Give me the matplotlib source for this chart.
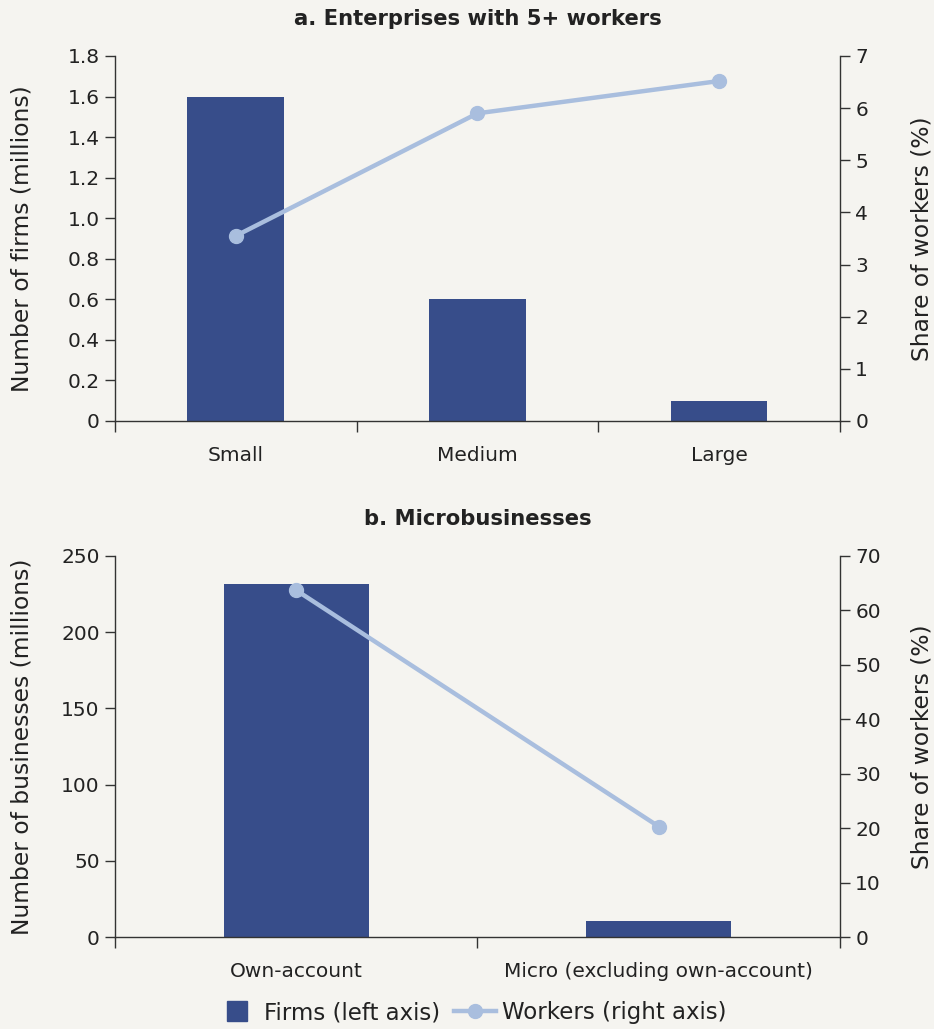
import matplotlib
matplotlib.use("Agg")
import matplotlib.pyplot as plt
import numpy as np
from matplotlib.lines import Line2D

# Data
cats_a = ["Small", "Medium", "Large"]
firms_a = [1.6, 0.6, 0.1]
workers_a = [3.55, 5.9, 6.52]

cats_b = ["Own-account", "Micro (excluding own-account)"]
firms_b = [231.5, 10.5]
workers_b = [63.7, 20.3]

bg = "#f5f4f0"
bar_c = "#374d8a"
line_c = "#a9bede"
txt = "#222222"
spine_c = "#333333"

plt.rcParams['font.family'] = ['DejaVu Sans']
plt.rcParams['text.color'] = txt

fig = plt.figure(figsize=(9.34, 10.29), dpi=100, facecolor=bg)

def panel(rect, cats, firms, workers, ylim, yticks, ylabels, y2lim, y2ticks, ylab, title):
    ax = fig.add_axes(rect)
    ax.set_facecolor(bg)
    n = len(cats)
    x = np.arange(n)
    ax.bar(x, firms, width=0.4, color=bar_c, zorder=2)
    ax.set_xlim(-0.5, n - 0.5)
    ax.set_ylim(*ylim)
    ax.set_yticks(yticks)
    ax.set_yticklabels(ylabels)
    ax.set_xticks(x)
    ax.set_xticklabels(cats)
    ax.set_xticks(np.arange(n + 1) - 0.5, minor=True)
    ax.tick_params(axis='x', which='major', length=0, pad=18, labelsize=14.5, colors=txt)
    ax.tick_params(axis='x', which='minor', length=8, width=1, color=spine_c)
    ax.tick_params(axis='y', length=7, width=1, color=spine_c, labelsize=14.5, labelcolor=txt, pad=4)
    ax.spines['top'].set_visible(False)
    ax.spines['right'].set_visible(False)
    for s in ['left', 'bottom']:
        ax.spines[s].set_color(spine_c)
        ax.spines[s].set_linewidth(1)
    ax.set_ylabel(ylab, fontsize=16.8, color=txt)
    ax.yaxis.set_label_coords(-0.113, 0.5)
    ax.set_title(title, fontsize=15.2, fontweight='bold', color=txt, pad=22)
    ax2 = ax.twinx()
    ax2.plot(x, workers, color=line_c, lw=3.2, marker='o', ms=10, zorder=3)
    ax2.set_ylim(*y2lim)
    ax2.set_yticks(y2ticks)
    ax2.tick_params(axis='y', length=7, width=1, color=spine_c, labelsize=14.5, labelcolor=txt, pad=4)
    for s in ['top', 'left', 'bottom']:
        ax2.spines[s].set_visible(False)
    ax2.spines['right'].set_color(spine_c)
    ax2.spines['right'].set_linewidth(1)
    ax2.set_ylabel("Share of workers (%)", fontsize=16.8, color=txt)
    ax2.yaxis.set_label_coords(1.097, 0.5)
    return ax, ax2

ya = [0, 0.2, 0.4, 0.6, 0.8, 1.0, 1.2, 1.4, 1.6, 1.8]
yal = ["0", "0.2", "0.4", "0.6", "0.8", "1.0", "1.2", "1.4", "1.6", "1.8"]
panel([0.1231, 0.5909, 0.7762, 0.3547], cats_a, firms_a, workers_a,
      (0, 1.8), ya, yal, (0, 7), list(range(8)),
      "Number of firms (millions)", "a. Enterprises with 5+ workers")

yb = [0, 50, 100, 150, 200, 250]
panel([0.1231, 0.0894, 0.7762, 0.3703], cats_b, firms_b, workers_b,
      (0, 250), yb, [str(v) for v in yb], (0, 70), list(range(0, 71, 10)),
      "Number of businesses (millions)", "b. Microbusinesses")

handles = [Line2D([0], [0], marker='s', color='none', markerfacecolor=bar_c,
                  markeredgecolor=bar_c, markersize=14),
           Line2D([0], [0], color=line_c, lw=3.2, marker='o', ms=10)]
fig.legend(handles, ["Firms (left axis)", "Workers (right axis)"],
           loc='center', bbox_to_anchor=(0.505, 0.016), ncol=2, frameon=False,
           fontsize=16.5, handlelength=1.8, handletextpad=0.3, columnspacing=0.6)

fig.savefig("out.png", dpi=100, facecolor=bg)
